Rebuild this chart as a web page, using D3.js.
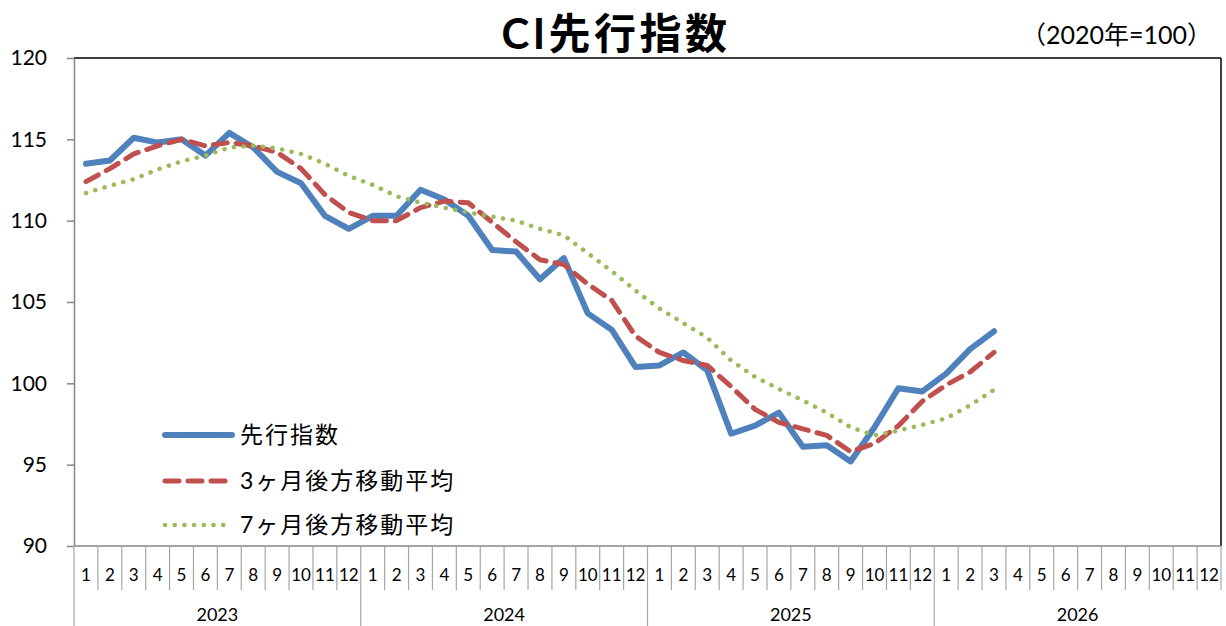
<!DOCTYPE html>
<html><head><meta charset="utf-8">
<script src="https://cdn.jsdelivr.net/npm/d3@7"></script>
<style>
html,body{margin:0;padding:0;background:#fff;}
svg{display:block;font-family:Lato,"Noto Sans CJK JP",sans-serif;}
</style></head>
<body>
<svg id="c" width="1226" height="626"></svg>
<script>
const years = ["2023","2024","2025","2026"];
const monthLabels = ["1","2","3","4","5","6","7","8","9","10","11","12"];
const yTicks = [90,95,100,105,110,115,120];
const seriesNames = ["先行指数","3ヶ月後方移動平均","7ヶ月後方移動平均"];
const ci = [113.5,113.7,115.1,114.8,115.0,114.0,115.4,114.5,113.0,112.3,110.3,109.5,
            110.3,110.3,111.9,111.3,110.3,108.2,108.1,106.4,107.7,104.3,103.3,101.0,
            101.1,101.9,100.8,96.9,97.4,98.2,96.1,96.2,95.2,97.3,99.7,99.5,
            100.6,102.1,103.2];
const ma3 = [112.4,113.2,114.1,114.6,115.0,114.6,114.8,114.6,114.2,113.2,111.6,110.5,
             110.0,110.0,110.8,111.2,111.1,109.9,108.7,107.6,107.3,106.1,105.1,102.9,
             101.9,101.4,101.1,99.8,98.4,97.6,97.2,96.8,95.8,96.3,97.4,98.9,
             99.9,100.7,101.9];
const ma7 = [111.7,112.15,112.55,113.15,113.65,114.0,114.5,114.6,114.45,114.1,113.5,112.75,
             112.2,111.5,111.1,110.8,110.5,110.25,110.0,109.5,109.1,108.0,106.9,105.7,
             104.6,103.7,102.8,101.4,100.4,99.65,98.95,98.2,97.3,96.8,97.1,97.45,
             97.85,98.65,99.6];

const svg = d3.select("#c");
const L = 74, R = 1221, T = 58, B = 546;
const cats = [];
years.forEach(y => monthLabels.forEach(m => cats.push(y + "-" + m)));
const x = d3.scaleBand().domain(cats).range([L, R]).paddingInner(0).paddingOuter(0);
const y = d3.scaleLinear().domain([90,120]).range([B, T]);
const cx = i => x(cats[i]) + x.bandwidth()/2;

// Title
svg.append("text").attr("x", 616).attr("y", 49).attr("text-anchor","middle")
  .attr("font-size", 42).attr("font-weight", "bold").attr("letter-spacing", 3.5)
  .attr("fill","#000").text("CI先行指数");
svg.append("text").attr("x", 1212).attr("y", 44).attr("text-anchor","end")
  .attr("font-size", 25).attr("fill","#000").text("（2020年=100）");

// Plot border top/right
svg.append("line").attr("x1", L).attr("x2", R).attr("y1", T).attr("y2", T).attr("stroke","#000").attr("stroke-width",1.5);
svg.append("line").attr("x1", R).attr("x2", R).attr("y1", T).attr("y2", B).attr("stroke","#000").attr("stroke-width",1.5);

// Y axis
const yAxis = svg.append("g").attr("transform", `translate(${L},0)`)
  .call(d3.axisLeft(y).tickValues(yTicks).tickSize(7).tickSizeOuter(0).tickPadding(20));
yAxis.select(".domain").attr("stroke","#868686").attr("stroke-width",1.5);
yAxis.selectAll(".tick line").attr("stroke","#868686").attr("stroke-width",1.5);
yAxis.selectAll(".tick text").attr("font-size", 21).attr("fill","#000")
  .attr("font-family","Lato,'Noto Sans CJK JP',sans-serif");

// X axis baseline
svg.append("line").attr("x1", L).attr("x2", R).attr("y1", B).attr("y2", B).attr("stroke","#868686").attr("stroke-width",1.5);

// Month separators and labels
const xg = svg.append("g");
cats.forEach((c, i) => {
  const x0 = x(c);
  const isYear = i % 12 === 0;
  xg.append("line").attr("x1", x0).attr("x2", x0).attr("y1", B).attr("y2", isYear ? 626 : 590)
    .attr("stroke", "#a6a6a6").attr("stroke-width", 1.2);
  xg.append("text").attr("x", cx(i)).attr("y", 581).attr("text-anchor","middle")
    .attr("font-size", 17).attr("fill","#000").text(monthLabels[i % 12]);
});
xg.append("line").attr("x1", R).attr("x2", R).attr("y1", B).attr("y2", 590)
  .attr("stroke", "#a6a6a6").attr("stroke-width", 1.2);
years.forEach((yr, k) => {
  const xa = x(cats[k*12]), xb = k*12+12 < cats.length ? x(cats[k*12+12]) : R;
  xg.append("text").attr("x", (xa+xb)/2).attr("y", 621).attr("text-anchor","middle")
    .attr("font-size", 18).attr("fill","#000").text(yr);
});

// Lines
const line = d3.line().x((d,i) => cx(i)).y(d => y(d));
const styles = [
  {data: ci, color:"#4F81BD", w:6, dash:null, cap:"round"},
  {data: ma3, color:"#C0504D", w:5, dash:"14 9", cap:"round"},
  {data: ma7, color:"#9BBB59", w:4.5, dash:"0.1 9.6", cap:"round"}
];
styles.forEach(s => {
  const p = svg.append("path").datum(s.data).attr("d", line)
    .attr("fill","none").attr("stroke", s.color).attr("stroke-width", s.w)
    .attr("stroke-linejoin","round").attr("stroke-linecap", s.cap);
  if (s.dash) p.attr("stroke-dasharray", s.dash);
});

// Legend
const legY = [435, 481, 525];
styles.forEach((s, k) => {
  const l = svg.append("line").attr("x1", 165).attr("x2", 232).attr("y1", legY[k]).attr("y2", legY[k])
    .attr("stroke", s.color).attr("stroke-width", s.w).attr("stroke-linecap", s.cap);
  if (s.dash) l.attr("stroke-dasharray", s.dash);
  svg.append("text").attr("x", 240).attr("y", legY[k] + 8).attr("font-size", 23)
    .attr("letter-spacing", 2).attr("fill","#000").text(seriesNames[k]);
});
</script>
</body></html>
